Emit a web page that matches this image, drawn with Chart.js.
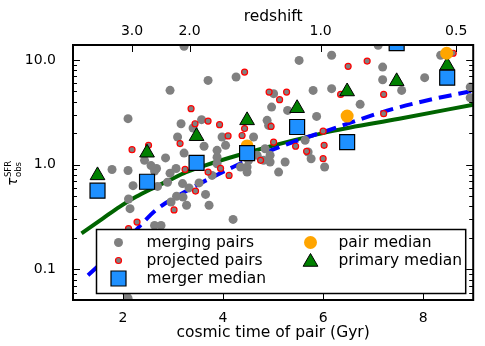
<!DOCTYPE html>
<html><head><meta charset="utf-8">
<script src="https://cdn.jsdelivr.net/npm/chart.js@4/dist/chart.umd.min.js"></script>
<style>html,body{margin:0;padding:0;background:#fff;}#wrap{width:485px;height:346px;position:relative}</style>
</head><body><div id="wrap"><canvas id="c" width="485" height="346"></canvas></div>
<script>
// ---- data (cosmic time in Gyr, tau_obs^SFR) ----
const mergingTime = [3.22,3.70,2.94,2.10,3.16,3.40,3.57,3.09,3.62,3.22,2.85,2.56,1.78,2.10,3.06,2.63,2.94,2.20,2.89,3.32,3.52,3.65,3.20,2.11,2.96,3.27,3.72,2.63,2.76,2.43,2.67,2.69,3.19,3.07,2.14,2.10,2.07,6.17,5.52,4.26,5.80,6.17,5.01,4.97,5.29,5.87,4.88,4.91,3.98,4.61,3.88,4.05,4.84,4.94,4.68,5.64,5.70,5.24,3.88,4.81,4.94,5.76,6.03,4.51,4.35,4.48,5.11,3.88,3.78,4.20,4.48,7.10,7.19,7.19,8.03,7.57,6.74,8.35,8.94,8.94];
const mergingTau = [13.5,6.38,5.13,2.75,2.46,2.24,2.69,1.84,1.50,1.29,1.16,0.98,0.90,0.88,0.92,0.87,0.83,0.63,0.68,0.60,0.67,0.52,0.49,0.47,0.44,0.41,0.41,0.263,0.263,1.10,0.92,0.62,0.66,0.50,0.38,0.053,0.060,11.1,9.9,6.87,5.12,5.32,4.77,3.55,3.30,2.89,2.65,2.37,1.84,1.84,1.37,1.53,1.42,1.23,1.23,1.71,1.32,1.06,1.02,1.10,1.06,1.14,0.95,1.10,0.95,0.95,0.85,1.18,0.79,0.30,0.85,13.8,8.55,6.48,6.78,5.12,3.77,11.1,5.51,4.36];
const projectedTime = [3.36,3.44,3.70,2.51,2.18,3.14,3.24,3.70,3.45,3.02,2.28,2.11,4.43,4.92,5.27,5.13,3.93,4.10,4.43,4.38,4.96,5.01,4.75,5.45,5.67,6.00,6.02,6.00,3.95,4.12,6.50,6.88,6.35,7.21,7.21,8.60];
const projectedTau = [3.43,2.46,2.61,1.53,1.39,1.59,0.90,0.85,0.56,0.37,0.283,0.245,7.66,4.94,4.94,4.18,2.41,1.88,2.21,1.90,2.32,1.64,1.10,1.50,1.34,2.09,1.53,1.14,0.92,0.79,8.69,9.77,4.69,4.69,3.07,11.6];
const medianTime = [1.49,2.48,3.47,4.48,5.48,6.48,7.47,8.48];
const mergerMedian = [0.564,0.687,1.04,1.29,2.29,1.64,14.5,6.78];
const primaryMedian = [0.79,1.30,1.87,2.65,3.46,5.0,6.25,8.85];
const pairMedianTime = [4.48,6.48,8.47];
const pairMedian = [1.51,2.91,11.6];
const greenCurveTime = [1.17,1.60,1.93,2.26,2.59,2.92,3.26,3.63,4.30,5.00,6.15,7.52,9.00];
const greenCurveTau  = [0.221,0.307,0.396,0.493,0.594,0.708,0.85,0.98,1.23,1.52,2.08,2.75,3.74];
const blueCurveTime = [1.30,2.10,2.65,3.02,4.20,5.12,6.10,7.42,8.88,9.00];
const blueCurveTau  = [0.088,0.198,0.366,0.48,0.95,1.47,2.13,3.43,4.94,5.05];
const xTickValues = [2,4,6,8];
const yTickValues = [0.1,1,10];
const yMinorTicks = [0.06,0.07,0.08,0.09,0.2,0.3,0.4,0.5,0.6,0.7,0.8,0.9,2,3,4,5,6,7,8,9];
const redshiftTime = [2.18,3.33,5.95,8.66];
const redshiftLabels = ['3.0','2.0','1.0','0.5'];
const legendLabels = ['merging pairs','projected pairs','merger median','pair median','primary median'];

const FONT = '"DejaVu Sans", sans-serif';
const zip = (xs, ys) => xs.map((x, i) => ({x: x, y: ys[i]}));

const ticksPlugin = {
  id: 'ticksFrame',
  afterDatasetsDraw(chart) {
    const ctx = chart.ctx, ca = chart.chartArea;
    const xs = chart.scales.x, ys = chart.scales.y;
    ctx.save();
    ctx.strokeStyle = '#000'; ctx.lineWidth = 1;
    ctx.beginPath();
    yTickValues.forEach(v => { const p = Math.round(ys.getPixelForValue(v)) + 0.5;
      ctx.moveTo(ca.left, p); ctx.lineTo(ca.left + 7, p); ctx.moveTo(ca.right, p); ctx.lineTo(ca.right - 7, p); });
    yMinorTicks.forEach(v => { const p = Math.round(ys.getPixelForValue(v)) + 0.5;
      ctx.moveTo(ca.left, p); ctx.lineTo(ca.left + 4, p); ctx.moveTo(ca.right, p); ctx.lineTo(ca.right - 4, p); });
    xTickValues.forEach(v => { const p = Math.round(xs.getPixelForValue(v)) + 0.5;
      ctx.moveTo(p, ca.bottom); ctx.lineTo(p, ca.bottom - 7); });
    redshiftTime.forEach(v => { const p = Math.round(xs.getPixelForValue(v)) + 0.5;
      ctx.moveTo(p, ca.top); ctx.lineTo(p, ca.top + 7); });
    ctx.stroke();
    ctx.lineWidth = 2;
    ctx.strokeRect(ca.left, ca.top, ca.right - ca.left, ca.bottom - ca.top);
    ctx.restore();
  }
};

function marker(ctx, style, x, y, r, fill, stroke, lw) {
  ctx.beginPath();
  if (style === 'circle') ctx.arc(x, y, r, 0, Math.PI * 2);
  else if (style === 'rect') { const s = r * Math.SQRT1_2; ctx.rect(x - s, y - s, 2 * s, 2 * s); }
  else if (style === 'triangle') {
    ctx.moveTo(x, y - r);
    ctx.lineTo(x + Math.sin(2 * Math.PI / 3) * r, y + 0.5 * r);
    ctx.lineTo(x - Math.sin(2 * Math.PI / 3) * r, y + 0.5 * r);
    ctx.closePath();
  }
  ctx.fillStyle = fill; ctx.fill();
  if (lw > 0) { ctx.strokeStyle = stroke; ctx.lineWidth = lw; ctx.stroke(); }
}

const legendPlugin = {
  id: 'boxLegend',
  afterDraw(chart) {
    const ctx = chart.ctx, ca = chart.chartArea;
    const L = ca.left + 23.5, R = ca.right - 7.5, B = ca.bottom - 6.5, T = B - 64;
    ctx.save();
    ctx.fillStyle = '#fff'; ctx.fillRect(L, T, R - L, B - T);
    ctx.strokeStyle = '#000'; ctx.lineWidth = 1.5; ctx.strokeRect(L, T, R - L, B - T);
    const rows = [T + 13, T + 31, T + 49];
    const c1 = L + 22, c2 = L + 214, t1 = L + 50, t2 = L + 242;
    marker(ctx, 'circle', c1, rows[0], 4.5, '#808080', '#808080', 0);
    marker(ctx, 'circle', c1, rows[1], 3, '#808080', '#ff0000', 1.2);
    marker(ctx, 'rect', c1, rows[2], 10.6, '#1e90ff', '#000', 1.2);
    marker(ctx, 'circle', c2, rows[0], 6.5, '#ffa500', '#ffa500', 0);
    marker(ctx, 'triangle', c2, rows[1] + 1.5, 8.5, '#008000', '#000', 1);
    ctx.fillStyle = '#000'; ctx.font = '15.5px ' + FONT; ctx.textBaseline = 'middle'; ctx.textAlign = 'left';
    ctx.fillText(legendLabels[0], t1, rows[0]);
    ctx.fillText(legendLabels[1], t1, rows[1]);
    ctx.fillText(legendLabels[2], t1, rows[2]);
    ctx.fillText(legendLabels[3], t2, rows[0]);
    ctx.fillText(legendLabels[4], t2, rows[1]);
    // y-axis label  tau^SFR_obs
    ctx.translate(17, 186); ctx.rotate(-Math.PI / 2);
    ctx.textBaseline = 'alphabetic';
    ctx.font = 'italic 14px ' + FONT; ctx.fillText('τ', 0, 0);
    const w = ctx.measureText('τ').width;
    ctx.font = '8.5px ' + FONT;
    ctx.fillText('SFR', w + 0.5, -6.5);
    ctx.fillText('obs', w + 0.5, 3.5);
    ctx.restore();
  }
};

const tickFont = {family: FONT, size: 14};
const titleFont = {family: FONT, size: 15.5};

new Chart(document.getElementById('c'), {
  type: 'scatter',
  data: {
    datasets: [
      {label: legendLabels[2], data: zip(medianTime, mergerMedian), pointStyle: 'rect', pointRadius: 10.6,
       backgroundColor: '#1e90ff', borderColor: '#000', borderWidth: 1.2, clip: 0},
      {label: legendLabels[3], data: zip(pairMedianTime, pairMedian), pointStyle: 'circle', pointRadius: 6.5,
       backgroundColor: '#ffa500', borderWidth: 0, clip: 0},
      {label: legendLabels[4], data: zip(medianTime, primaryMedian), pointStyle: 'triangle', pointRadius: 8.5,
       backgroundColor: '#008000', borderColor: '#000', borderWidth: 1, clip: 0},
      {label: legendLabels[1], data: zip(projectedTime, projectedTau), pointStyle: 'circle', pointRadius: 3,
       backgroundColor: '#808080', borderColor: '#ff0000', borderWidth: 1.2, clip: 0},
      {label: legendLabels[0], data: zip(mergingTime, mergingTau), pointStyle: 'circle', pointRadius: 4.5,
       backgroundColor: '#808080', borderWidth: 0, clip: 0},
      {label: 'blue', data: zip(blueCurveTime, blueCurveTau), showLine: true, pointRadius: 0, borderColor: '#0000ff',
       borderWidth: 4, borderDash: [13, 7], cubicInterpolationMode: 'monotone', fill: false, clip: 0},
      {label: 'green', data: zip(greenCurveTime, greenCurveTau), showLine: true, pointRadius: 0, borderColor: '#006400',
       borderWidth: 4, cubicInterpolationMode: 'monotone', fill: false, clip: 0}
    ]
  },
  options: {
    responsive: false, animation: false, events: [], devicePixelRatio: 1,
    layout: {padding: {left: 0, right: 10, top: 0, bottom: 0}},
    plugins: {legend: {display: false}, tooltip: {enabled: false}},
    scales: {
      x: {type: 'linear', position: 'bottom', min: 1, max: 9,
          afterBuildTicks: s => { s.ticks = xTickValues.map(v => ({value: v})); },
          afterFit: s => { s.height = 46; },
          grid: {display: false}, border: {display: false},
          ticks: {font: tickFont, color: '#000', padding: 2, callback: v => String(v)},
          title: {display: true, text: 'cosmic time of pair (Gyr)', font: titleFont, color: '#000', padding: {top: 0, bottom: 4}}},
      x2: {type: 'linear', position: 'top', min: 1, max: 9,
          afterBuildTicks: s => { s.ticks = redshiftTime.map(v => ({value: v})); },
          afterFit: s => { s.height = 45; },
          grid: {display: false}, border: {display: false},
          ticks: {font: tickFont, color: '#000', padding: -3, callback: (v, i) => redshiftLabels[i]},
          title: {display: true, text: 'redshift', font: titleFont, color: '#000', padding: {top: 8, bottom: 0}}},
      y: {type: 'logarithmic', position: 'left', min: 0.051, max: 13.9,
          afterBuildTicks: s => { s.ticks = yTickValues.map(v => ({value: v})); },
          afterFit: s => { s.width = 73; },
          grid: {display: false}, border: {display: false},
          ticks: {font: tickFont, color: '#000', padding: 9, callback: v => Number(v).toFixed(1)}}
    }
  },
  plugins: [ticksPlugin, legendPlugin]
});
</script></body></html>
